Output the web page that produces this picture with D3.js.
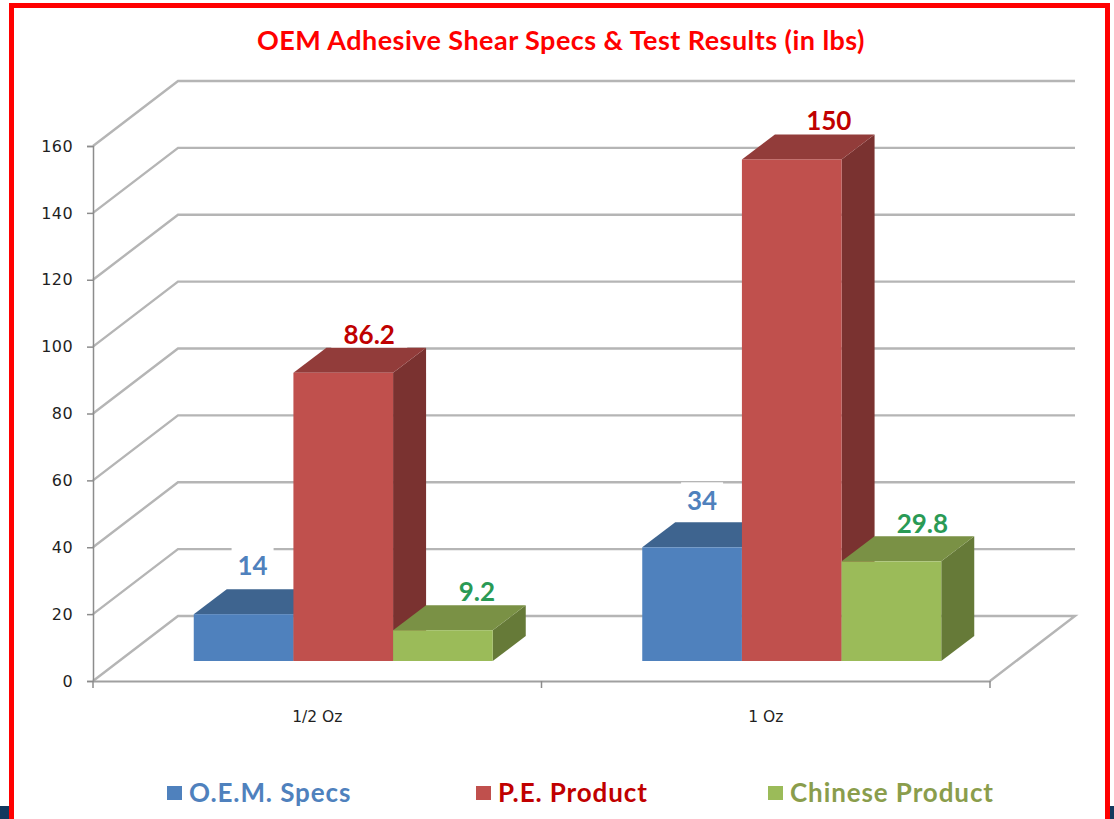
<!DOCTYPE html>
<html>
<head>
<meta charset="utf-8">
<script src="https://cdn.jsdelivr.net/npm/d3@7"></script>
<style>
  html, body { margin: 0; padding: 0; background: #fff; }
  svg { display: block; }
</style>
</head>
<body>
<div id="chart"></div>
<script>
// chart data
var categories = ["1/2 Oz", "1 Oz"];
var seriesNames = ["O.E.M. Specs", "P.E. Product", "Chinese Product"];
var oemSpecs = [14, 34];
var peProduct = [86.2, 150];
var chineseProduct = [9.2, 29.8];
var valueLabels = [["14", "34"], ["86.2", "150"], ["9.2", "29.8"]];
var yTicks = [0, 20, 40, 60, 80, 100, 120, 140, 160];
var titleText = "OEM Adhesive Shear Specs & Test Results (in lbs)";

var allSeries = [oemSpecs, peProduct, chineseProduct];

// colours per series
var faceColor = ["#4f81bd", "#c0504d", "#9bbb59"];
var topColor = ["#3e648f", "#923c3a", "#7a9145"];
var sideColor = ["#375a80", "#7a3230", "#667a38"];
var labelColor = ["#4f81bd", "#c00000", "#2a9a55"];
var legendColor = ["#4f81bd", "#c00000", "#8a9d4c"];

var fullWidth = 1114, fullHeight = 819;

var svg = d3.select("#chart").append("svg")
  .attr("width", fullWidth)
  .attr("height", fullHeight);

// picture frame
svg.append("rect").attr("x", 0).attr("y", 806).attr("width", 9).attr("height", 13).attr("fill", "#12395e");
svg.append("rect").attr("x", 1110).attr("y", 806).attr("width", 4).attr("height", 13).attr("fill", "#12395e");
svg.append("path")
  .attr("d", "M11.5,819V5.5H1107.5V819")
  .attr("fill", "none")
  .attr("stroke", "#ff0000")
  .attr("stroke-width", 5);

svg.append("text")
  .attr("x", 561)
  .attr("y", 50)
  .attr("text-anchor", "middle")
  .attr("font-family", "Lato")
  .attr("font-weight", 700)
  .attr("font-size", 27)
  .attr("letter-spacing", 0.45)
  .attr("fill", "#ff0000")
  .text(titleText);

// scales for the front plane of the 3d box
var x = d3.scaleBand().domain(categories).range([93, 990]);
var y = d3.scaleLinear().domain([0, 160]).range([681, 146]);

// depth offset of the back wall and of the bars
var wallDx = 85, wallDy = -65;
var barInsetDx = 26, barInsetDy = -20;
var barDx = 33, barDy = -25;

var line = d3.line();

// walls and floor
yTicks.forEach(function(t) {
  var pts = [
    [x.range()[0], y(t)],
    [x.range()[0] + wallDx, y(t) + wallDy],
    [x.range()[1] + wallDx, y(t) + wallDy]
  ];
  if (t === 0) pts.push([x.range()[1], y(t)]);
  svg.append("path")
    .attr("d", line(pts))
    .attr("fill", "none")
    .attr("stroke", "#b5b5b5")
    .attr("stroke-width", 2.4);
});

// Y axis
var yAxis = svg.append("g")
  .attr("transform", "translate(" + x.range()[0] + ",0)")
  .call(d3.axisLeft(y).tickValues(yTicks).tickSize(6).tickPadding(14));
yAxis.selectAll("path, line").attr("stroke", "#8c8c8c").attr("stroke-width", 1.5);
yAxis.selectAll("text")
  .attr("font-family", "DejaVu Sans")
  .attr("font-size", 16)
  .attr("letter-spacing", 0.4)
  .attr("fill", "#1f1f1f");

// X axis
var xAxis = svg.append("g")
  .attr("transform", "translate(0," + y(0) + ")")
  .call(d3.axisBottom(x).tickSize(0).tickPadding(30));
xAxis.selectAll("path").attr("stroke", "#a0a0a0").attr("stroke-width", 2);
xAxis.selectAll("text")
  .attr("font-family", "DejaVu Sans")
  .attr("font-size", 15.5)
  .attr("fill", "#1f1f1f");
// ticks sit between the categories
xAxis.selectAll("line.boundary")
  .data([x.range()[0], x(categories[1]), x.range()[1]])
  .enter().append("line")
  .attr("class", "boundary")
  .attr("x1", function(d) { return d; })
  .attr("x2", function(d) { return d; })
  .attr("y1", 0)
  .attr("y2", 7)
  .attr("stroke", "#8c8c8c")
  .attr("stroke-width", 1.5);

// where each bar sits inside its category
var inner = d3.scaleBand()
  .domain(d3.range(seriesNames.length))
  .range([0, x.bandwidth()])
  .paddingOuter(0.75)
  .paddingInner(0);

// nudges of the value labels from the bar's top front edge
var labelDx = [[9, 10], [26, 37], [34, 31]];
var labelDy = [[-48, -46], [-38, -39], [-38, -37]];
var labelBoxW = [42, 76, 60];

function labelX(s, c) {
  return x(categories[c]) + inner(s) + inner.bandwidth() / 2 + barInsetDx + labelDx[s][c];
}
function labelY(s, c) {
  return y(allSeries[s][c]) + barInsetDy + labelDy[s][c];
}

// white boxes behind the value labels knock out the gridlines
allSeries.forEach(function(vals, s) {
  vals.forEach(function(v, c) {
    svg.append("rect")
      .attr("x", labelX(s, c) - labelBoxW[s] / 2)
      .attr("y", labelY(s, c) - 19)
      .attr("width", labelBoxW[s])
      .attr("height", 36)
      .attr("fill", "#fff");
  });
});

// bars, left to right so the overlaps come out right
categories.forEach(function(cat, c) {
  allSeries.forEach(function(vals, s) {
    var x0 = x(cat) + inner(s) + barInsetDx;
    var x1 = x0 + inner.bandwidth();
    var yb = y(0) + barInsetDy;
    var yt = y(vals[c]) + barInsetDy;
    var g = svg.append("g");
    g.append("path")
      .attr("d", line([[x1, yt], [x1 + barDx, yt + barDy], [x1 + barDx, yb + barDy], [x1, yb]]) + "Z")
      .attr("fill", sideColor[s]);
    g.append("path")
      .attr("d", line([[x0, yt], [x0 + barDx, yt + barDy], [x1 + barDx, yt + barDy], [x1, yt]]) + "Z")
      .attr("fill", topColor[s]);
    g.append("rect")
      .attr("x", x0)
      .attr("y", yt)
      .attr("width", x1 - x0)
      .attr("height", yb - yt)
      .attr("fill", faceColor[s]);
  });
});

// value labels
allSeries.forEach(function(vals, s) {
  vals.forEach(function(v, c) {
    svg.append("text")
      .attr("x", labelX(s, c))
      .attr("y", labelY(s, c))
      .attr("dy", "0.35em")
      .attr("text-anchor", "middle")
      .attr("font-family", "Lato")
      .attr("font-weight", 700)
      .attr("font-size", 26)
      .attr("fill", labelColor[s])
      .text(valueLabels[s][c]);
  });
});

// legend
var legendX = [167, 476, 768];
seriesNames.forEach(function(name, s) {
  svg.append("rect")
    .attr("x", legendX[s])
    .attr("y", 786)
    .attr("width", 15)
    .attr("height", 14)
    .attr("fill", faceColor[s]);
  svg.append("text")
    .attr("x", legendX[s] + 22)
    .attr("y", 802)
    .attr("font-family", "Lato")
    .attr("font-weight", 700)
    .attr("font-size", 26)
    .attr("letter-spacing", 0.9)
    .attr("fill", legendColor[s])
    .text(name);
});
</script>
</body>
</html>
